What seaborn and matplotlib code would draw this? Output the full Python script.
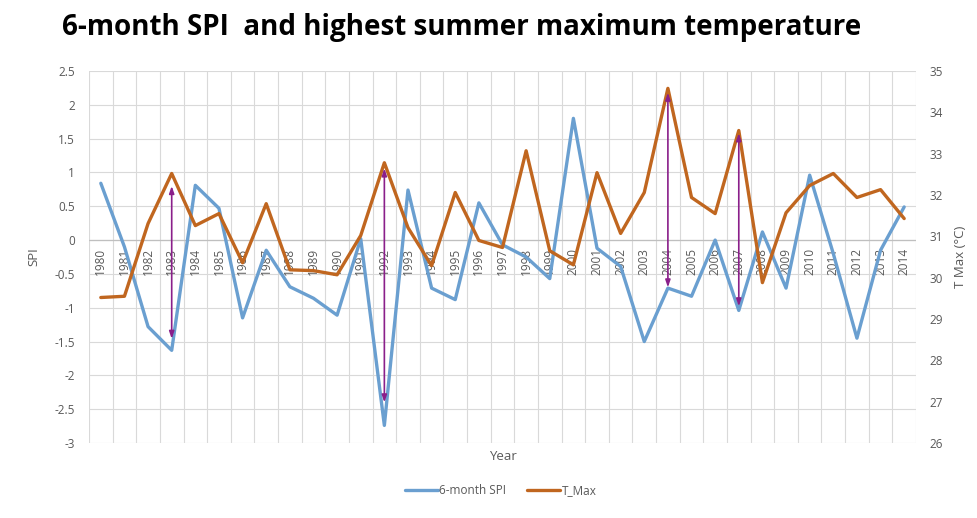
import matplotlib
matplotlib.use("Agg")
import matplotlib.pyplot as plt
import seaborn as sns
import numpy as np
import pandas as pd

years = list(range(1980, 2015))
spi = [0.84, -0.10, -1.28, -1.63, 0.81, 0.47, -1.15, -0.15, -0.69, -0.86,
       -1.11, 0.02, -2.74, 0.74, -0.71, -0.88, 0.55, -0.07, -0.25, -0.57,
       1.80, -0.12, -0.39, -1.50, -0.71, -0.83, 0.00, -1.04, 0.12, -0.71,
       0.96, -0.20, -1.45, -0.15, 0.49]
tmax = [29.52, 29.55, 31.31, 32.52, 31.26, 31.55, 30.36, 31.79, 30.19, 30.17,
        30.07, 31.02, 32.78, 31.21, 30.29, 32.06, 30.90, 30.73, 33.07, 30.65,
        30.31, 32.54, 31.07, 32.06, 34.58, 31.94, 31.55, 33.56, 29.88, 31.57,
        32.23, 32.52, 31.94, 32.13, 31.43]
arrow_years = [1983, 1992, 2004, 2007]
arrow_top = [0.80, 1.06, 2.18, 1.58]
arrow_bottom = [-1.46, -2.40, -0.70, -0.98]

sns.set_theme(style="white")
plt.rcParams['font.family'] = ['Open Sans', 'DejaVu Sans']

df = pd.DataFrame({"pos": np.arange(len(years)), "SPI": spi, "TMAX": tmax})

fig = plt.figure(figsize=(9.78, 5.18), dpi=100)
ax = fig.add_axes([89/978, 1-443/518, (916-89)/978, (443-71)/518])
ax2 = ax.twinx()

blue = "#6a9fd0"
orange = "#c0661f"
grid_c = "#d9d9d9"
txt_c = "#595959"

sns.lineplot(data=df, x="pos", y="SPI", ax=ax, color=blue, lw=2.4, label="6-month SPI", legend=False)
sns.lineplot(data=df, x="pos", y="TMAX", ax=ax2, color=orange, lw=2.4, label="T_Max", legend=False)

ax.set_xlim(-0.5, len(years) - 0.5)
ax.set_ylim(-3, 2.5)
ax2.set_ylim(26, 35)
ax.set_yticks(np.arange(-3, 2.51, 0.5))
ax.set_yticklabels([f"{v:g}" for v in np.arange(-3, 2.51, 0.5)])
ax2.set_yticks(np.arange(26, 35.1, 1))

# grid
for v in np.arange(-3, 2.51, 0.5):
    ax.axhline(v, color=grid_c, lw=0.8, zorder=0)
for k in range(len(years) + 1):
    ax.axvline(k - 0.5, color=grid_c, lw=0.8, zorder=0)
ax.axhline(0, color="#bfbfbf", lw=0.9, zorder=0)

ax.set_xticks([])
for i, y in enumerate(years):
    ax.text(i, -0.12, str(y), rotation=90, ha="center", va="top",
            fontsize=8.5, color=txt_c, zorder=1)

for a in (ax, ax2):
    for s in a.spines.values():
        s.set_visible(False)
    a.tick_params(axis="y", length=0, labelsize=8.5, labelcolor=txt_c, pad=10)

ax.set_xlabel("")
ax.set_ylabel("SPI", fontsize=9.5, color=txt_c, labelpad=10)
ax2.set_ylabel("T Max (°C)", fontsize=9.5, color=txt_c, labelpad=8)
ax2.set_xlabel("")
fig.text((89+916)/2/978, 1-456/518, "Year", ha="center", va="center", fontsize=9.5, color=txt_c)

# arrows (drawn on top, in SPI coordinates)
for yr, top, bot in zip(arrow_years, arrow_top, arrow_bottom):
    i = years.index(yr)
    ax2.annotate("", xy=(i, top), xytext=(i, bot), xycoords=ax.transData,
                 textcoords=ax.transData,
                 arrowprops=dict(arrowstyle="<|-|>,head_length=0.35,head_width=0.12",
                                 color="#8a1f8a", lw=1.2, shrinkA=0, shrinkB=0), zorder=5)

fig.suptitle("6-month SPI  and highest summer maximum temperature", x=62/978, ha="left",
             y=1-27/518, va="center", fontsize=20, fontweight="bold", color="black")

h1, l1 = ax.get_legend_handles_labels()
h2, l2 = ax2.get_legend_handles_labels()
fig.legend(h1 + h2, l1 + l2, loc="center", bbox_to_anchor=(0.512, 1-491/518), ncol=2,
           frameon=False, fontsize=8.5, handlelength=2.8, columnspacing=1.8,
           labelcolor=txt_c, handletextpad=0.1)

fig.savefig("out.png", dpi=100)
